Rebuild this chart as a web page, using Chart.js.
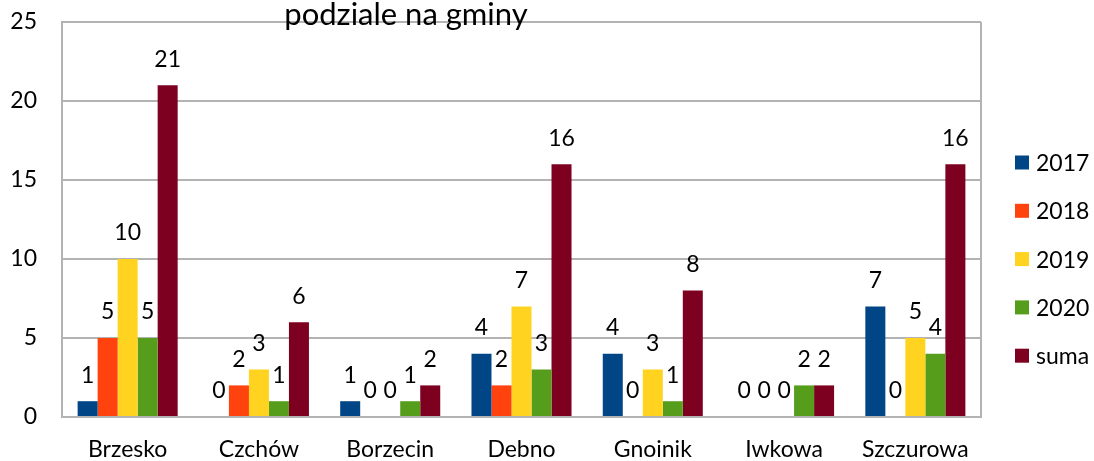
<!DOCTYPE html>
<html>
<head>
<meta charset="utf-8">
<script src="https://cdn.jsdelivr.net/npm/chart.js@4/dist/chart.umd.min.js"></script>
<style>
html,body{margin:0;padding:0;background:#fff;}
#wrap{width:1094px;height:461px;position:relative;}
</style>
</head>
<body>
<div id="wrap"><canvas id="c" width="1094" height="461"></canvas></div>
<script>
const categories = ['Brzesko','Czchów','Borzecin','Debno','Gnoinik','Iwkowa','Szczurowa'];
const seriesNames = ['2017','2018','2019','2020','suma'];
const v2017 = [1,0,1,4,4,0,7];
const v2018 = [5,2,0,2,0,0,0];
const v2019 = [10,3,0,7,3,0,5];
const v2020 = [5,1,1,3,1,2,4];
const vSuma = [21,6,2,16,8,2,16];
const yTicks = [0,5,10,15,20,25];
const titleText = 'podziale na gminy';

const colors = ['#004586','#ff420e','#ffd320','#579d1c','#7e0021'];
const FONT = 'Lato, "Open Sans", sans-serif';
const FS = 23;

const seriesValues = [v2017, v2018, v2019, v2020, vSuma];

const valueLabels = {
  id: 'valueLabels',
  afterDatasetsDraw(chart) {
    const ctx = chart.ctx;
    ctx.save();
    ctx.font = FS + 'px ' + FONT;
    ctx.fillStyle = '#000';
    ctx.textAlign = 'center';
    ctx.textBaseline = 'middle';
    chart.data.datasets.forEach((ds, i) => {
      const meta = chart.getDatasetMeta(i);
      meta.data.forEach((el, j) => {
        ctx.fillText(String(ds.data[j]), el.x, el.y - 26);
      });
    });
    ctx.restore();
  }
};

const frameAndExtras = {
  id: 'frameAndExtras',
  beforeDatasetsDraw(chart) {
    const {ctx, chartArea: a} = chart;
    ctx.save();
    ctx.strokeStyle = '#b3b3b3';
    ctx.lineWidth = 2;
    ctx.beginPath();
    ctx.moveTo(a.right, a.top);
    ctx.lineTo(a.right, a.bottom);
    ctx.stroke();
    ctx.restore();
  },
  afterDraw(chart) {
    const {ctx} = chart;
    ctx.save();
    // title (partly cut in the original)
    ctx.font = '31px ' + FONT;
    ctx.fillStyle = '#000';
    ctx.textAlign = 'center';
    ctx.textBaseline = 'alphabetic';
    ctx.fillText(titleText, 406, 25);
    // legend
    ctx.font = FS + 'px ' + FONT;
    ctx.textAlign = 'left';
    ctx.textBaseline = 'middle';
    const startY = 162.5, step = 48.3;
    chart.data.datasets.forEach((ds, i) => {
      const y = startY + i * step;
      ctx.fillStyle = ds.backgroundColor;
      ctx.fillRect(1015, y - 7, 14, 14);
      ctx.fillStyle = '#000';
      ctx.fillText(ds.label, 1036, y + 1);
    });
    ctx.restore();
  }
};

new Chart(document.getElementById('c'), {
  type: 'bar',
  data: {
    labels: categories,
    datasets: seriesNames.map((n, i) => ({
      label: n,
      data: seriesValues[i],
      backgroundColor: colors[i],
      borderWidth: 0,
      categoryPercentage: 0.762,
      barPercentage: 1
    }))
  },
  options: {
    responsive: false,
    animation: false,
    devicePixelRatio: 1,
    layout: { padding: { left: 0, right: 113, top: 22, bottom: 0 } },
    plugins: {
      legend: { display: false },
      tooltip: { enabled: false },
      title: { display: false }
    },
    scales: {
      x: {
        grid: { display: false, drawTicks: false },
        border: { display: true, color: '#b3b3b3', width: 2 },
        ticks: { color: '#000', font: { family: FONT, size: FS }, padding: 19, maxRotation: 0 },
        afterFit(s) { s.height = 44; s.paddingLeft = 0; s.paddingRight = 0; }
      },
      y: {
        min: 0, max: 25,
        afterBuildTicks(s) { s.ticks = yTicks.map(v => ({ value: v })); },
        grid: { color: '#b3b3b3', lineWidth: 2, drawTicks: false },
        border: { display: true, color: '#b3b3b3', width: 2 },
        ticks: { color: '#000', font: { family: FONT, size: FS }, padding: 25 },
        afterFit(s) { s.width = 62; s.paddingTop = 0; s.paddingBottom = 0; }
      }
    }
  },
  plugins: [frameAndExtras, valueLabels]
});
</script>
</body>
</html>
